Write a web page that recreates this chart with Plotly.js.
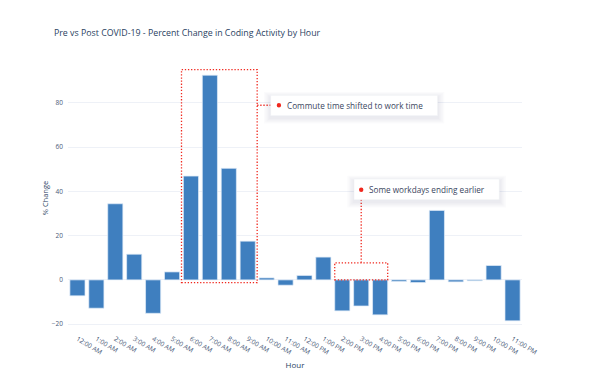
<!DOCTYPE html>
<html>
<head>
<meta charset="utf-8">
<script src="https://cdn.plot.ly/plotly-3.0.1.min.js"></script>
<style>html,body{margin:0;padding:0;background:#fff;}#chart{width:590px;height:388px;}</style>
</head>
<body>
<div id="chart"></div>
<script>
const hours = ["12:00 AM","1:00 AM","2:00 AM","3:00 AM","4:00 AM","5:00 AM","6:00 AM","7:00 AM","8:00 AM","9:00 AM","10:00 AM","11:00 AM","12:00 PM","1:00 PM","2:00 PM","3:00 PM","4:00 PM","5:00 PM","6:00 PM","7:00 PM","8:00 PM","9:00 PM","10:00 PM","11:00 PM"];
const pctChange = [-7.2,-12.8,34.4,11.6,-15.1,3.6,46.9,92.5,50.4,17.5,0.9,-2.4,2.0,10.3,-14.0,-11.8,-15.8,-0.7,-1.2,31.4,-0.9,-0.4,6.5,-18.5];
const yTicks = [-20,0,20,40,60,80];
const noteTexts = ["Commute time shifted to work time","Some workdays ending earlier"];

const red = "#f0281e";
const txt = "#2a3f5f";
const FONT = "Open Sans, Noto Sans, sans-serif";
const DOT = "1.3px,1.8px";

const bars = {
  type: "bar", x: hours, y: pctChange,
  marker: {color: "#3f7fbf", line: {color: "rgba(225,235,248,0.9)", width: 0.8}},
  hoverinfo: "x+y", showlegend: false
};

function shadow(x0,x1,y0,y1){
  const s = [];
  const dx = 0.07, dy = 0.5;
  for (let k=5;k>=1;k--){
    s.push({type:"rect", xref:"x", yref:"y", x0:x0-dx*k, x1:x1+dx*k, y0:y0-dy*k-1.0, y1:y1+dy*k-1.0,
      fillcolor:"rgba(40,50,80,0.018)", line:{width:0}, layer:"above"});
  }
  s.push({type:"rect", xref:"x", yref:"y", x0:x0, x1:x1, y0:y0, y1:y1,
    fillcolor:"#ffffff", line:{color:"rgba(236,238,243,1)", width:0.5}, layer:"above"});
  return s;
}
function dot(x,y){
  const rx = 2.2/18.92, ry = 2.2/2.213;
  return {type:"circle", xref:"x", yref:"y", x0:x-rx, x1:x+rx, y0:y-ry, y1:y+ry,
    fillcolor:red, line:{width:0}, layer:"above"};
}

const shapes = [
  {type:"rect", xref:"x", yref:"y", x0:5.5, x1:9.5, y0:-1.2, y1:95, line:{color:red, width:1.3, dash:DOT}, fillcolor:"rgba(0,0,0,0)"},
  {type:"rect", xref:"x", yref:"y", x0:13.6, x1:16.4, y0:0, y1:7.7, line:{color:red, width:1.3, dash:DOT}, fillcolor:"rgba(0,0,0,0)"},
  {type:"line", xref:"x", yref:"y", x0:9.5, x1:10.65, y0:78.9, y1:78.9, line:{color:red, width:1.3, dash:DOT}},
  {type:"line", xref:"x", yref:"y", x0:15, x1:15, y0:7.7, y1:40.7, line:{color:red, width:1.3, dash:DOT}},
  ...shadow(10.21, 19.04, 74.2, 83.4),
  ...shadow(14.62, 22.3, 36.2, 45.6),
  dot(10.65, 78.9),
  dot(15, 40.7)
];

const layout = {
  width: 590, height: 388,
  margin: {l: 68, r: 68, t: 63, b: 55},
  paper_bgcolor: "#fff", plot_bgcolor: "#fff",
  font: {family: FONT, color: txt, size: 7},
  title: {text: "Pre vs Post COVID-19 - Percent Change in Coding Activity by Hour",
    font: {family: FONT, size: 8.8, color: txt}, xref: "container", x: 0.0915, xanchor: "left",
    yref: "container", y: 1 - 33/388, yanchor: "middle"},
  bargap: 0.2,
  xaxis: {type: "category", categoryorder: "array", categoryarray: hours, tickangle: 31,
    showgrid: false, zeroline: false, showline: false, ticks: "",
    tickfont: {size: 6.6, color: "#4a5a78"},
    title: {text: "Hour", font: {size: 8, color: txt}, standoff: 6}},
  yaxis: {range: [-24, 98], tickvals: yTicks, showgrid: true, gridcolor: "#eef1f7", gridwidth: 1,
    zeroline: true, zerolinecolor: "#eef1f7", zerolinewidth: 1, ticks: "", showline: false,
    tickfont: {size: 6.5, color: "#4a5a78"}, ticklabelstandoff: 4,
    title: {text: "% Change", font: {size: 7.5, color: txt}, standoff: 2}},
  shapes: shapes,
  annotations: [
    {xref: "x", yref: "y", x: 10.95, y: 78.8, xanchor: "left", yanchor: "middle", showarrow: false,
      text: noteTexts[0], font: {size: 8.2, color: "#3a4660"}},
    {xref: "x", yref: "y", x: 15.3, y: 40.7, xanchor: "left", yanchor: "middle", showarrow: false,
      text: noteTexts[1], font: {size: 8.2, color: "#3a4660"}}
  ]
};

Plotly.newPlot("chart", [bars], layout, {displayModeBar: false, staticPlot: true});
</script>
</body>
</html>
